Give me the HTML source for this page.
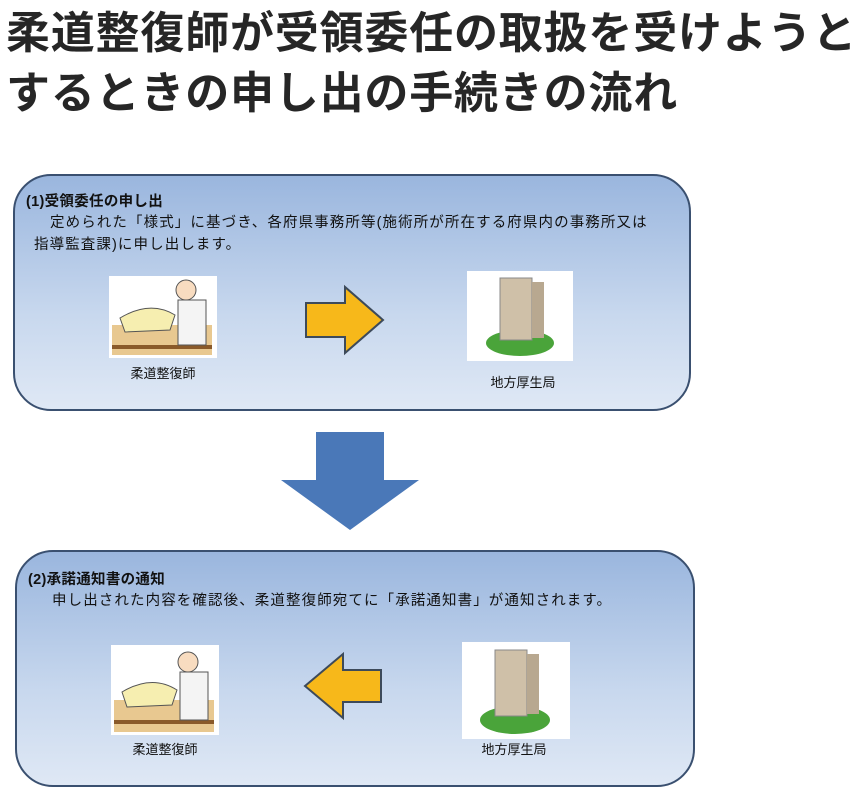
<!DOCTYPE html>
<html><head><meta charset="utf-8"><style>
body{margin:0;width:868px;height:790px;background:#fff;position:relative;overflow:hidden;font-family:"Liberation Sans","Noto Sans CJK JP",sans-serif;}
.t{position:absolute;left:6px;top:4px;font-size:44px;font-weight:bold;color:#262626;line-height:60px;letter-spacing:0.8px;white-space:nowrap;}
.box{position:absolute;border:2px solid #3a5070;border-radius:38px;background:linear-gradient(#9ab6de,#c8d8ee 60%,#dfe8f5);}
.s{position:absolute;font-size:14.5px;color:#111;white-space:nowrap;letter-spacing:1.1px;}
.b{font-weight:bold;letter-spacing:0.3px;}
.lab{position:absolute;font-size:13px;color:#111;transform:translateX(-50%);white-space:nowrap;}
</style></head><body>
<div class="t">柔道整復師が受領委任の取扱を受けようと<br>するときの申し出の手続きの流れ</div>

<div class="box" style="left:13px;top:174px;width:674px;height:233px;"></div>
<div class="s b" style="left:26px;top:190px;">(1)受領委任の申し出</div>
<div class="s" style="left:50px;top:211px;">定められた「様式」に基づき、各府県事務所等(施術所が所在する府県内の事務所又は</div>
<div class="s" style="left:34px;top:233px;">指導監査課)に申し出します。</div>
<svg style="position:absolute;left:0;top:0" width="868" height="790">
<rect x="109" y="276" width="108" height="82" fill="#fff"/>
<rect x="112" y="325" width="100" height="30" fill="#e8c890"/><rect x="112" y="345" width="100" height="4" fill="#8a5a2a"/>
<path d="M120 318 Q150 300 175 315 L170 330 L125 332Z" fill="#f6eeb0" stroke="#555" stroke-width="1"/>
<rect x="178" y="300" width="28" height="45" fill="#f4f4f4" stroke="#555"/>
<circle cx="186" cy="290" r="10" fill="#f8dcc0" stroke="#555"/>
<rect x="467" y="271" width="106" height="90" fill="#fff"/>
<ellipse cx="520" cy="343" rx="34" ry="13" fill="#4aa43a"/>
<rect x="500" y="278" width="32" height="62" fill="#cfc0a8" stroke="#888" stroke-width="1"/>
<rect x="532" y="282" width="12" height="56" fill="#b8a890"/>
<polygon points="306,303 345,303 345,287 383,320 345,353 345,337 306,337" fill="#f7b81a" stroke="#3d4a5a" stroke-width="2"/>
<polygon points="316,432 384,432 384,480 419,480 350,530 281,480 316,480" fill="#4a78b8"/>
</svg>
<div class="lab" style="left:163px;top:363px;">柔道整復師</div>
<div class="lab" style="left:523px;top:372px;">地方厚生局</div>

<div class="box" style="left:15px;top:550px;width:676px;height:233px;"></div>
<div class="s b" style="left:28px;top:568px;">(2)承諾通知書の通知</div>
<div class="s" style="left:52px;top:589px;">申し出された内容を確認後、柔道整復師宛てに「承諾通知書」が通知されます。</div>
<svg style="position:absolute;left:0;top:0" width="868" height="790">
<rect x="111" y="645" width="108" height="90" fill="#fff"/>
<rect x="114" y="700" width="100" height="32" fill="#e8c890"/><rect x="114" y="720" width="100" height="4" fill="#8a5a2a"/>
<path d="M122 692 Q152 674 177 690 L172 705 L127 707Z" fill="#f6eeb0" stroke="#555"/>
<rect x="180" y="672" width="28" height="48" fill="#f4f4f4" stroke="#555"/>
<circle cx="188" cy="662" r="10" fill="#f8dcc0" stroke="#555"/>
<rect x="462" y="642" width="108" height="97" fill="#fff"/>
<ellipse cx="515" cy="720" rx="35" ry="14" fill="#4aa43a"/>
<rect x="495" y="650" width="32" height="66" fill="#cfc0a8" stroke="#888"/>
<rect x="527" y="654" width="12" height="60" fill="#b8a890"/>
<polygon points="381,670 343,670 343,654 305,686 343,718 343,702 381,702" fill="#f7b81a" stroke="#3d4a5a" stroke-width="2"/>
</svg>
<div class="lab" style="left:165px;top:739px;">柔道整復師</div>
<div class="lab" style="left:514px;top:739px;">地方厚生局</div>
</body></html>
